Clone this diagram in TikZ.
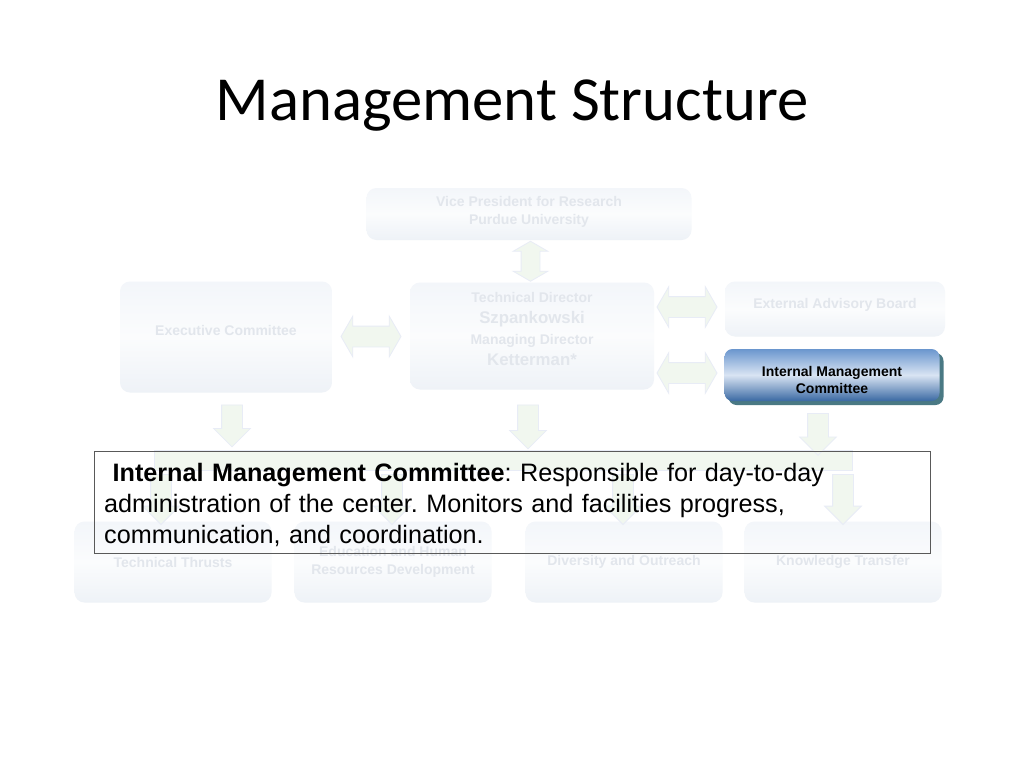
\documentclass[tikz,border=0pt]{standalone}
\usepackage{fontspec}
\setmainfont{Liberation Sans}
\newfontfamily\titlefont{Carlito}
\usetikzlibrary{shapes.arrows, shadows, positioning, calc}

\definecolor{boxtop}{HTML}{F3F6FA}
\definecolor{boxmid}{HTML}{FBFCFD}
\definecolor{boxbot}{HTML}{EEF2F7}
\definecolor{boxtxt}{HTML}{E2E6EC}
\definecolor{arrfill}{HTML}{F1F7EF}
\definecolor{arrline}{HTML}{E8ECF6}
\definecolor{imctop}{HTML}{6A96CE}
\definecolor{imcmid}{HTML}{D9E4F3}
\definecolor{imcbot}{HTML}{3A69A3}
\definecolor{imcshade}{HTML}{4A7984}

\tikzset{
  fadedbox/.style={rounded corners=10pt, top color=boxtop, bottom color=boxbot,
    middle color=boxmid, text=boxtxt, align=center, inner sep=0pt,
    font=\bfseries\fontsize{14}{17.5}\selectfont},
  boxlabel/.style={text=boxtxt, align=center, inner sep=0pt,
    font=\bfseries\fontsize{14}{21}\selectfont},
  imcbox/.style={rounded corners=8pt, top color=imctop, bottom color=imcbot,
    middle color=imcmid, align=center, inner sep=0pt,
    drop shadow={shadow xshift=4pt, shadow yshift=-4pt, fill=imcshade, opacity=1}},
  dblarrow/.style={double arrow, fill=arrfill, draw=arrline, line width=0.8pt,
    inner xsep=0pt, inner ysep=10pt, double arrow head extend=10pt,
    double arrow tip angle=120},
  downarrow/.style={single arrow, fill=arrfill, draw=arrline, line width=0.8pt,
    rotate=-90, inner xsep=0pt, inner ysep=10pt, single arrow head extend=8pt},
  notebox/.style={draw=black!65, line width=0.8pt, minimum width=836pt,
    minimum height=102pt},
}

\begin{document}
\begin{tikzpicture}
	[x=1pt, y=-1pt]
	\path[fill=white, use as bounding box] (0,0) rectangle (1024,768);

	\node[font=\titlefont\fontsize{62.7}{63}\selectfont, anchor=base] (title) at (512,120) {Management Structure};

	% top part of the chart
	\node[fadedbox, minimum width=325pt, minimum height=52pt,
		label={[boxlabel, yshift=2pt, font=\bfseries\fontsize{14}{18}\selectfont]center:Vice President for Research\\Purdue University}] (vp) at (529,214) {};
	\node[fadedbox, minimum width=212pt, minimum height=111pt,
		label={[boxlabel, yshift=7pt]center:Executive Committee}] (exec) at (226,337) {};
	\node[fadedbox, minimum width=244pt, minimum height=107pt,
		label={[boxlabel, yshift=7pt]center:Technical Director\\{\fontsize{16.8}{21}\selectfont Szpankowski}\\Managing Director\\{\fontsize{16.8}{21}\selectfont Ketterman*}}] (tech) at (532,336) {};
	\node[fadedbox, minimum width=220pt, minimum height=55pt,
		label={[boxlabel, yshift=4pt]center:External Advisory Board}] (ext) at (835,309) {};

	\node[dblarrow, rotate=90, minimum height=40pt, inner ysep=9pt, double arrow head extend=8pt] (a1)
		at ($(vp.south)!0.5!(tech.north)$) {};
	\node[dblarrow, minimum height=60pt] (a2) at ($(exec.east)!0.5!(tech.west)$) {};
	\node[dblarrow, minimum height=60pt] (a3) at (687,307) {};
	\node[dblarrow, minimum height=60pt] (a4) at (687,373) {};

	% bottom part of the chart
	\node[fill=arrfill, draw=arrline, minimum width=698pt, minimum height=20pt] (bus) at (503,460) {};
	\node[downarrow, minimum height=42pt] (d1) at ($(exec.south)+(6,28)$) {};
	\node[downarrow, minimum height=44pt] (d2) at ($(tech.south)+(-4,32)$) {};

	\foreach \name/\x/\dx/\txt in {thrusts/173/-12/Technical Thrusts,
		edu/393/-1/{Education and Human\\Resources Development},
		div/624/-1/Diversity and Outreach, know/843/0/Knowledge Transfer}
	{
	\node[fadedbox, minimum width=197pt, minimum height=81pt] (\name) at (\x,562) {\txt};
	\node[downarrow, minimum height=50pt] at ($(\name.north)+(\dx,-27)$) {};
	}

	\node[imcbox, minimum width=215pt, minimum height=52pt,
		label={[align=center, inner sep=0pt, yshift=-5pt, font=\bfseries\fontsize{14}{17}\selectfont]center:Internal Management\\Committee}]
		(imc) at (832,375) {};
	\node[downarrow, minimum height=42pt] (d3) at ($(imc.south)+(-14,28)$) {};

	% the note
	\node[notebox] (note) at (512,502) {};
	\node[anchor=north west, inner sep=0pt, text width=816pt, align=left,
		font=\fontsize{25.2}{31}\selectfont\frenchspacing] (notetxt) at (104,463)
		{\textbf{\ Internal Management Committee}: Responsible for day-to-day\\
		administration of the center. Monitors and facilities progress,\\
		communication, and coordination.};
\end{tikzpicture}
\end{document}
